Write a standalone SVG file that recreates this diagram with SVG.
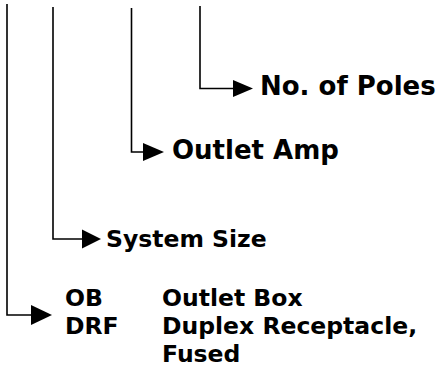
<svg xmlns="http://www.w3.org/2000/svg" width="438" height="365" viewBox="0 0 438 365">
<style>
.t{font-family:"DejaVu Sans","Verdana",sans-serif;font-weight:bold;fill:#000}
.big{font-size:26px}
.sm{font-size:23.5px}
.c{fill:none;stroke:#000;stroke-width:1.6}
.h{fill:#000;stroke:none}
</style>
<rect width="438" height="365" fill="#fff"/>
<g id="connectors">
<path class="c" d="M200,6 V88.5 H234"/>
<polygon class="h" points="233,80 253,88.5 233,97"/>
<path class="c" d="M131.5,8 V152 H144"/>
<polygon class="h" points="143,143 164,152 143,161"/>
<path class="c" d="M53,7 V239 H83"/>
<polygon class="h" points="82,229.5 101,239 82,248.5"/>
<path class="c" d="M7,4 V315 H32"/>
<polygon class="h" points="31,305 52,315 31,325"/>
</g>
<g id="poles"><text class="t big" x="260" y="95">No. of Poles</text></g>
<g id="amp"><text class="t big" x="172" y="158.5">Outlet Amp</text></g>
<g id="size"><text class="t sm" x="106" y="247">System Size</text></g>
<g id="type">
<text class="t sm" x="65" y="306">OB</text>
<text class="t sm" x="162" y="306">Outlet Box</text>
<text class="t sm" x="65" y="334">DRF</text>
<text class="t sm" x="162" y="334">Duplex Receptacle,</text>
<text class="t sm" x="162" y="362">Fused</text>
</g>
</svg>
